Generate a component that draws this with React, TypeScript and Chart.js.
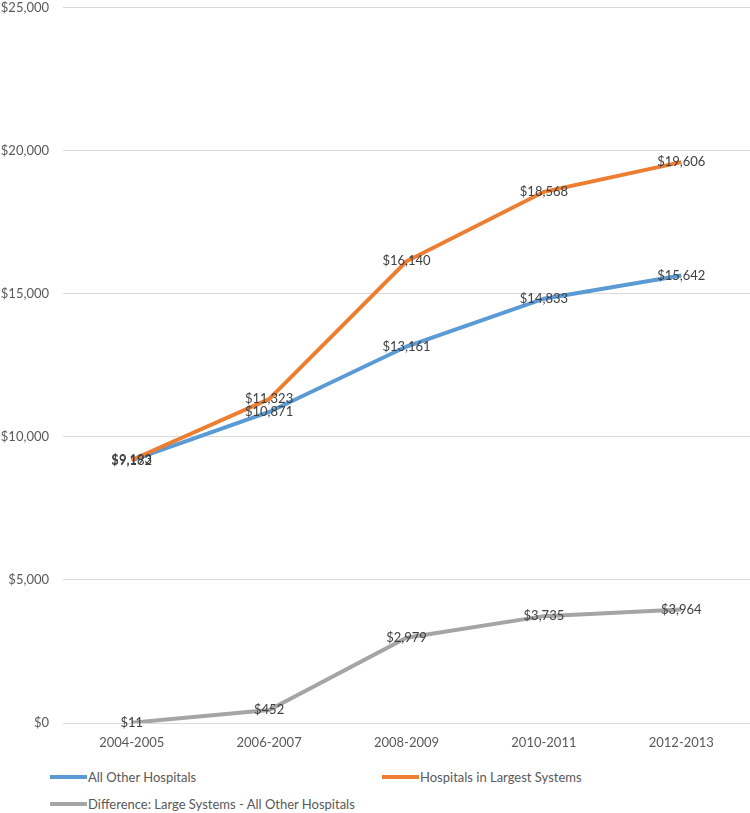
import React, { useEffect, useRef } from "react";
import { Chart, registerables } from "chart.js";

Chart.register(...registerables);

const categories = ["2004-2005", "2006-2007", "2008-2009", "2010-2011", "2012-2013"];
const allOther = [9182, 10871, 13161, 14833, 15642];
const largest = [9193, 11323, 16140, 18568, 19606];
const difference = [11, 452, 2979, 3735, 3964];
const seriesNames = [
  "All Other Hospitals",
  "Hospitals in Largest Systems",
  "Difference: Large Systems - All Other Hospitals",
];
const colors = ["#5B9BD5", "#ED7D31", "#A5A5A5"];

const FONT = "Lato, sans-serif";
const SIZE = 13;

const fmt = (v: number) => "$" + v.toLocaleString("en-US");

const labelPlugin = {
  id: "pointLabels",
  afterDatasetsDraw(chart: any) {
    const ctx = chart.ctx;
    ctx.save();
    ctx.font = `${SIZE}px ${FONT}`;
    ctx.fillStyle = "#404040";
    ctx.textAlign = "center";
    ctx.textBaseline = "middle";
    chart.data.datasets.forEach((ds: any, i: number) => {
      const meta = chart.getDatasetMeta(i);
      meta.data.forEach((pt: any, j: number) => {
        ctx.fillText(fmt(ds.data[j]), pt.x, pt.y);
      });
    });
    ctx.restore();
  },
};

export default function App() {
  const ref = useRef<HTMLCanvasElement | null>(null);
  useEffect(() => {
    if (!ref.current) return;
    const chart = new Chart(ref.current, {
      type: "line",
      data: {
        labels: categories,
        datasets: [
          { label: seriesNames[0], data: allOther, borderColor: colors[0], backgroundColor: colors[0], borderWidth: 4, pointRadius: 0, order: 1 },
          { label: seriesNames[1], data: largest, borderColor: colors[1], backgroundColor: colors[1], borderWidth: 4, pointRadius: 0, order: 0 },
          { label: seriesNames[2], data: difference, borderColor: colors[2], backgroundColor: colors[2], borderWidth: 4, pointRadius: 0, order: 2 },
        ],
      },
      options: {
        responsive: false,
        animation: false,
        layout: { padding: { top: 0, right: 0, bottom: 0, left: 0 } },
        plugins: { legend: { display: false }, tooltip: { enabled: false } },
        scales: {
          x: {
            offset: true,
            grid: { display: false, drawTicks: false, offset: true },
            border: { display: false },
            ticks: { color: "#595959", font: { family: FONT, size: SIZE }, padding: 12, maxRotation: 0 },
            afterFit: (s: any) => { s.height = 37; },
          },
          y: {
            min: 0,
            max: 25000,
            grid: { color: "#D9D9D9", lineWidth: 1, drawTicks: false },
            border: { display: false },
            ticks: {
              stepSize: 5000,
              color: "#595959",
              font: { family: FONT, size: SIZE },
              padding: 14,
              callback: (v: any) => fmt(Number(v)),
            },
            afterFit: (s: any) => { s.width = 63; },
          },
        },
      },
      plugins: [labelPlugin],
    });
    return () => chart.destroy();
  }, []);

  const legendItem = (i: number, left: number, top: number) => (
    <div key={i} style={{ position: "absolute", left, top: top - 9, display: "flex", alignItems: "center", height: 18 }}>
      <span style={{ display: "inline-block", width: 37, height: 4, background: colors[i], marginRight: 1 }} />
      <span style={{ font: `${SIZE}px ${FONT}`, color: "#595959", whiteSpace: "nowrap" }}>{seriesNames[i]}</span>
    </div>
  );

  return (
    <div style={{ position: "absolute", left: 0, top: 0, width: 750, height: 813, background: "#fff", overflow: "hidden" }}>
      <canvas ref={ref} width={750} height={774} style={{ display: "block", position: "absolute", left: 0, top: -14 }} />
      {legendItem(0, 50, 777)}
      {legendItem(1, 382, 777)}
      {legendItem(2, 50, 804)}
    </div>
  );
}
